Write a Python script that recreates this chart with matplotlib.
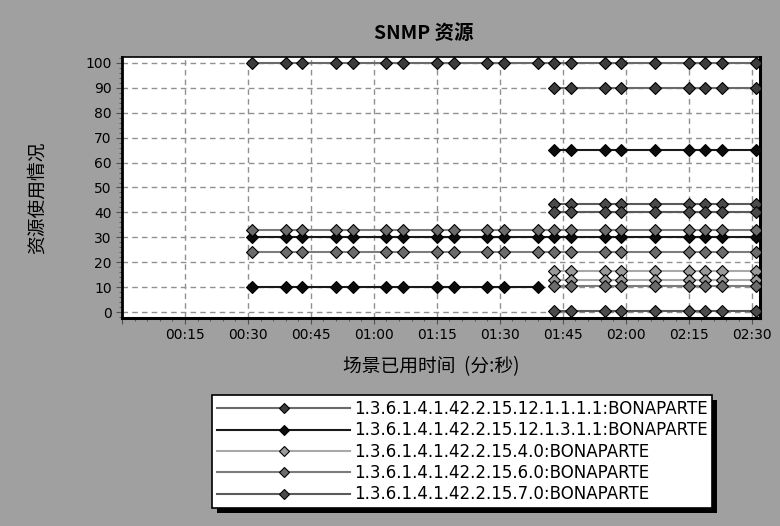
import numpy as np
import matplotlib
matplotlib.use("Agg")
import matplotlib.pyplot as plt
from matplotlib.ticker import MultipleLocator, FuncFormatter
from matplotlib.patches import Rectangle

plt.rcParams['font.family'] = ['DejaVu Sans', 'Noto Sans CJK SC']
cjk = ["Noto Sans CJK SC", "DejaVu Sans"]

# sample times (seconds since scenario start)
times = [31, 39, 43, 51, 55, 63, 67, 75, 79, 87, 91, 99,
         103, 107, 115, 119, 127, 135, 139, 143, 151]

series_names = ["1.3.6.1.4.1.42.2.15.12.1.1.1.1:BONAPARTE",
                "1.3.6.1.4.1.42.2.15.12.1.3.1.1:BONAPARTE",
                "1.3.6.1.4.1.42.2.15.4.0:BONAPARTE",
                "1.3.6.1.4.1.42.2.15.6.0:BONAPARTE",
                "1.3.6.1.4.1.42.2.15.7.0:BONAPARTE"]

# each series has several instances: (level, first time, last time)
s1_lines = [(100, 31, 151), (90, 103, 151)]
s2_lines = [(65, 103, 151), (30.3, 31, 151), (10.2, 31, 99)]
s3_lines = [(16.6, 103, 151), (12.8, 103, 151)]
s4_lines = [(33, 31, 151), (24.2, 31, 151), (10.6, 103, 151)]
s5_lines = [(43.4, 103, 151), (40, 103, 151), (0.4, 103, 151)]

marker_colors = ["#3c3c3c", "#0c0c0c", "#9a9a9a", "#6c6c6c", "#4a4a4a"]
line_colors = ["#6a6a6a", "#1a1a1a", "#a8a8a8", "#7c7c7c", "#5a5a5a"]

fig = plt.figure(figsize=(7.8, 5.26), dpi=100, facecolor="#a0a0a0")
ax = fig.add_axes([122 / 780, 1 - 318 / 526, 638 / 780, 261 / 526])
ax.set_facecolor("white")

t = np.array(times)
all_lines = [s1_lines, s2_lines, s3_lines, s4_lines, s5_lines]
handles = []
for i, lines in enumerate(all_lines):
    for j, (level, t0, t1) in enumerate(lines):
        tt = t[(t >= t0) & (t <= t1)]
        h, = ax.plot(tt, np.full(len(tt), level), color=line_colors[i], lw=1.5,
                     marker="D", ms=6, mfc=marker_colors[i], mec="black",
                     mew=0.8, zorder=3)
        if j == 0:
            handles.append(h)

ax.set_xlim(0, 152)
ax.set_ylim(-2.4, 102.4)
ax.xaxis.set_major_locator(MultipleLocator(15))
ax.xaxis.set_minor_locator(MultipleLocator(3))
ax.yaxis.set_major_locator(MultipleLocator(10))
ax.yaxis.set_minor_locator(MultipleLocator(2))
ax.xaxis.set_major_formatter(FuncFormatter(
    lambda v, p: "" if v == 0 else "%02d:%02d" % (v // 60, v % 60)))
ax.grid(True, which="major", color="#909090", ls=(0, (4, 3)), lw=1)
ax.tick_params(axis="both", which="both", direction="out", colors="#505050",
               labelcolor="black", labelsize=10)
ax.tick_params(which="major", length=4)
ax.tick_params(which="minor", length=2)
for s in ax.spines.values():
    s.set_color("black")
    s.set_linewidth(1.2)
ax.spines["bottom"].set_linewidth(2.2)
ax.spines["right"].set_linewidth(2.2)
ax.spines["left"].set_linewidth(2)

fig.text(424 / 780, 1 - 33 / 526, "SNMP 资源", ha="center", va="center",
         fontsize=14, fontweight="bold", family=cjk)
fig.text(37 / 780, 1 - 198 / 526, "资源使用情况", rotation=90, ha="center",
         va="center", fontsize=13.5, family=cjk)
fig.text(431 / 780, 1 - 367 / 526, "场景已用时间  (分:秒)", ha="center",
         va="center", fontsize=13.5, family=cjk)

leg = fig.legend(handles, series_names, loc="upper left",
                 bbox_to_anchor=(212 / 780, 1 - 395 / 526), borderaxespad=0,
                 fontsize=12, handlelength=8.0, handletextpad=0.2,
                 labelspacing=0.2, borderpad=0.3, numpoints=1, fancybox=False,
                 framealpha=1, edgecolor="black", facecolor="white",
                 markerscale=0.8)
leg.get_frame().set_linewidth(1.2)
leg.set_zorder(5)

fig.canvas.draw()
bb = leg.get_window_extent().transformed(fig.transFigure.inverted())
fig.patches.append(Rectangle((bb.x0 + 5 / 780, bb.y0 - 5 / 526), bb.width, bb.height,
                             transform=fig.transFigure, facecolor="black",
                             edgecolor="none", zorder=4))

fig.savefig("out.png", dpi=100, facecolor=fig.get_facecolor())
